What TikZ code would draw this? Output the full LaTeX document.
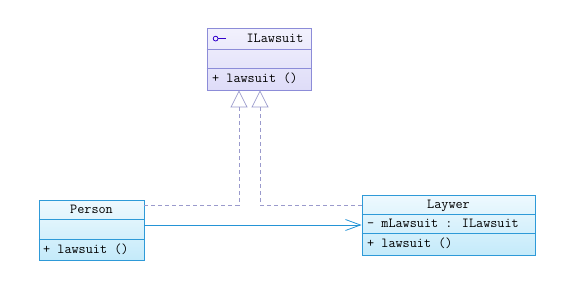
\documentclass[tikz,border=0pt]{standalone}
\usepackage{fontspec}
\usepackage{tikz}
\usetikzlibrary{arrows.meta, positioning, calc}

\definecolor{ifline}{HTML}{8C8CD8}
\definecolor{iftop}{HTML}{F2F1FD}
\definecolor{ifbot}{HTML}{DEDCF8}
\definecolor{clsline}{HTML}{2E9AD8}
\definecolor{clstop}{HTML}{EEF9FE}
\definecolor{clsbot}{HTML}{C4EAFA}
\definecolor{realline}{HTML}{9A9ACC}
\definecolor{assocline}{HTML}{2494D6}

\tikzset{
  ifacebox/.style={draw=ifline, line width=0.8pt, top color=iftop, bottom color=ifbot, inner sep=0pt},
  classbox/.style={draw=clsline, line width=0.8pt, top color=clstop, bottom color=clsbot, inner sep=0pt},
  member/.style={font=\ttfamily\fontsize{13.8}{15}\selectfont, inner sep=0pt, text height=8pt, text depth=2pt},
  realize/.style={draw=realline, line width=0.7pt, dash pattern=on 4pt off 3pt,
    -{Triangle[open, length=17pt, width=17pt, line width=0.7pt]}},
  assoc/.style={draw=assocline, line width=0.8pt, -{Straight Barb[length=15pt, width=11pt, line width=0.8pt]}},
}

\begin{document}
\begin{tikzpicture}[x=1pt, y=-1pt]
    \useasboundingbox (0,0) rectangle (569,285);

    % 接口
    \node[ifacebox, minimum width=104pt, minimum height=62pt] (ilawsuit) at (259,59) {};
    \draw[ifline, line width=0.8pt] ($(ilawsuit.north west)+(0,22)$) -- ($(ilawsuit.north east)+(0,22)$);
    \draw[ifline, line width=0.8pt] ($(ilawsuit.north west)+(0,41)$) -- ($(ilawsuit.north east)+(0,41)$);
    \draw[blue!60!violet, line width=0.8pt] ($(ilawsuit.north west)+(9,11)$) circle (2.4pt);
    \draw[blue!60!violet, line width=0.8pt] ($(ilawsuit.north west)+(11.4,11)$) -- ++(8,0);
    \node[member] (ilawsuitname) at (275,39) {ILawsuit};
    \node[member, anchor=west] (ilawsuitop) at (212,79) {+ lawsuit ()};

    % 类
    \node[classbox, minimum width=105pt, minimum height=60pt] (person) at (91.5,230) {};
    \draw[clsline, line width=0.8pt] ($(person.north west)+(0,20)$) -- ($(person.north east)+(0,20)$);
    \draw[clsline, line width=0.8pt] ($(person.north west)+(0,40)$) -- ($(person.north east)+(0,40)$);
    \node[member] (personname) at (91.5,210) {Person};
    \node[member, anchor=west] (personop) at (43,250) {+ lawsuit ()};

    \node[classbox, minimum width=173pt, minimum height=60pt] (laywer) at (448.5,225) {};
    \draw[clsline, line width=0.8pt] ($(laywer.north west)+(0,20)$) -- ($(laywer.north east)+(0,20)$);
    \draw[clsline, line width=0.8pt] ($(laywer.north west)+(0,39)$) -- ($(laywer.north east)+(0,39)$);
    \node[member] (laywername) at (448.5,205) {Laywer};
    \node[member, anchor=west] (laywerattr) at (367,224.5) {- mLawsuit : ILawsuit};
    \node[member, anchor=west] (laywerop) at (367,244.5) {+ lawsuit ()};

    % 实现
    \draw[realize] ([yshift=25pt]person.east) -| ([xshift=-20pt]ilawsuit.south);
    \draw[realize] ([yshift=20pt]laywer.west) -| ([xshift=1pt]ilawsuit.south);

    % 关联
    \draw[assoc] (person.east |- laywer.west) -- (laywer.west);
\end{tikzpicture}
\end{document}
